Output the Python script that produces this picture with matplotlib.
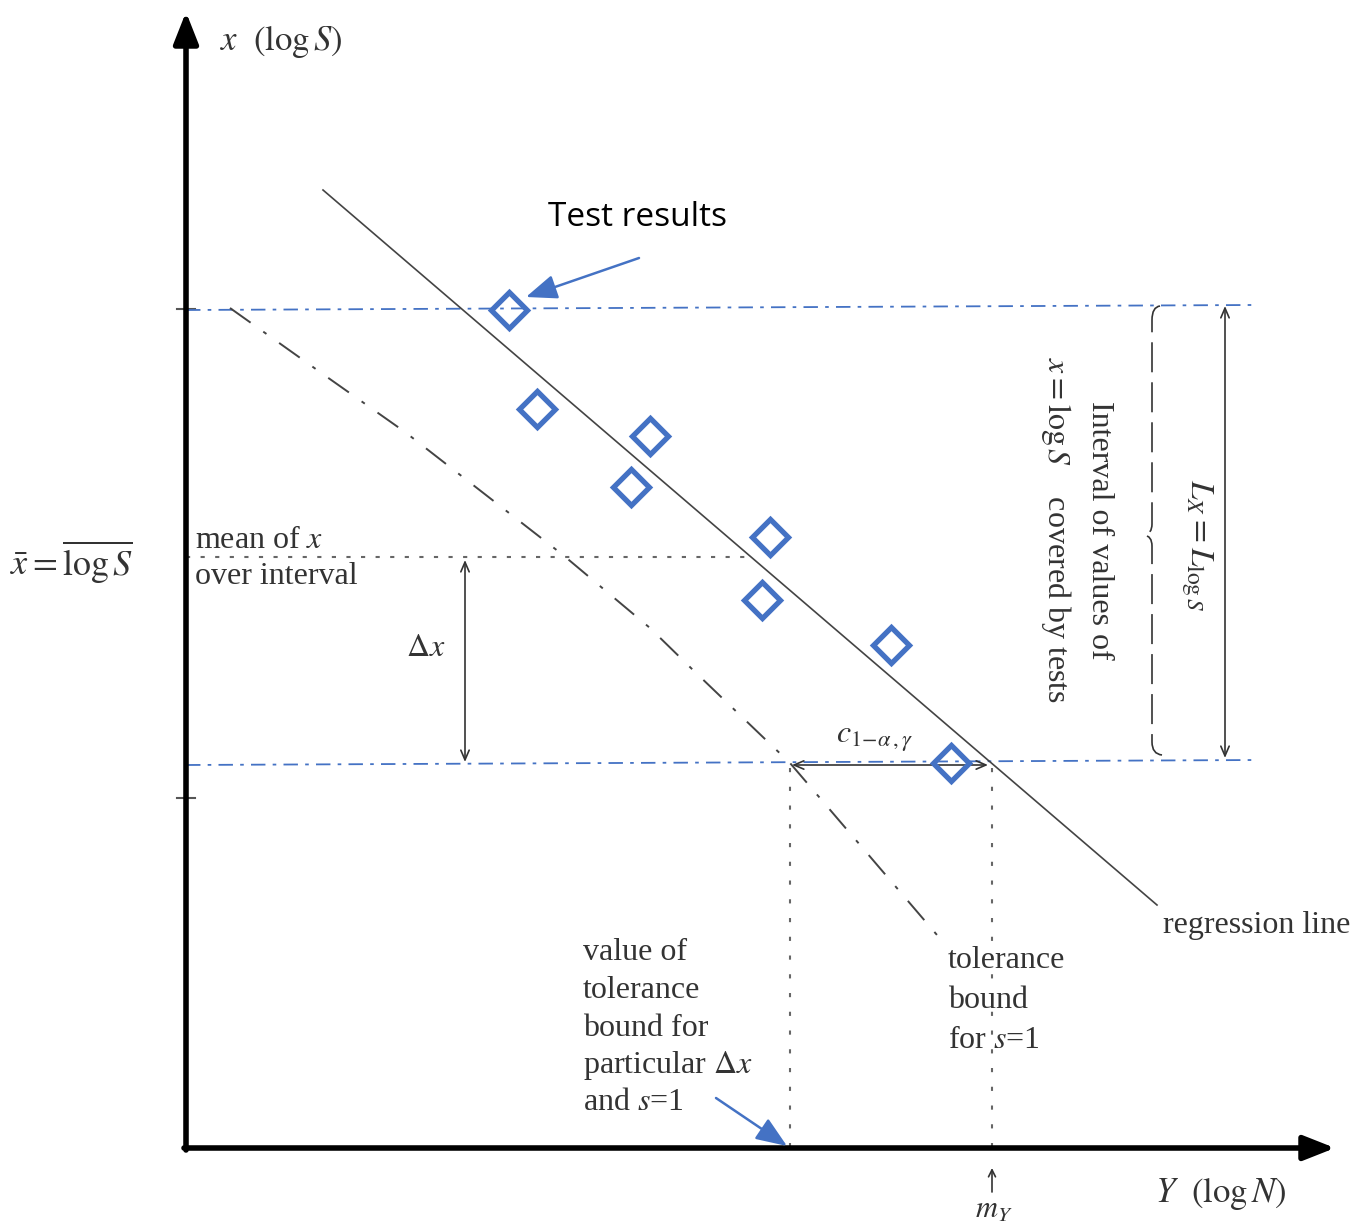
import matplotlib.pyplot as plt
from matplotlib.path import Path
import matplotlib.patches as patches

plt.rcParams['font.family'] = ['Liberation Serif', 'DejaVu Serif']
plt.rcParams['mathtext.fontset'] = 'stix'

# diagram coordinates (pixel-like, y grows downward)
test_Y = [509, 537, 650, 631, 770, 762, 891, 951]
test_x = [310, 409, 436, 487, 537, 600, 645, 763]

regr_Y = [323, 1157]
regr_x = [190, 905]

tol_Y = [230, 327, 405, 563, 650, 693, 790, 943]
tol_x = [308, 377, 432, 555, 628, 670, 763, 942]

upper_Y, upper_x = [186, 1252], [310, 305]
lower_Y, lower_x = [186, 1258], [765, 760]
mean_x = 557
tick_x = [309, 798]
tol_bound_Y = 790
m_Y = 992

BLUE = '#4472c4'
GREY = '#444444'
TXT = '#333333'

fig = plt.figure(figsize=(13.58, 12.25), dpi=100)
ax = fig.add_axes([0, 0, 1, 1])
ax.set_xlim(0, 1358)
ax.set_ylim(1225, 0)
ax.axis('off')

# axes with arrows
ax.annotate('', xy=(186, 12), xytext=(186, 1150),
            arrowprops=dict(arrowstyle='-|>,head_width=0.75,head_length=1.9', color='black', lw=4,
                            shrinkA=0, shrinkB=0))
ax.annotate('', xy=(1335, 1148), xytext=(184, 1148),
            arrowprops=dict(arrowstyle='-|>,head_width=0.75,head_length=1.9', color='black', lw=4,
                            shrinkA=0, shrinkB=0))
for t in tick_x:
    ax.plot([177, 195], [t, t], color='#555555', lw=1.5)

# interval lines
ax.plot(upper_Y, upper_x, color=BLUE, lw=1.3, linestyle=(0, (8, 4, 2, 4)))
ax.plot(lower_Y, lower_x, color=BLUE, lw=1.3, linestyle=(0, (8, 4, 2, 4)))
ax.plot([186, 745], [mean_x, mean_x], color='#666666', lw=1.5, linestyle=(0, (2, 5)))

# regression and tolerance bound
ax.plot(regr_Y, regr_x, color=GREY, lw=1.2)
ax.plot(tol_Y, tol_x, color=GREY, lw=1.4, linestyle=(0, (13, 8, 2, 8)))

# vertical dotted lines
ax.plot([tol_bound_Y, tol_bound_Y], [768, 1146], color='#666666', lw=1.5, linestyle=(0, (2, 7)))
ax.plot([m_Y, m_Y], [768, 1146], color='#666666', lw=1.5, linestyle=(0, (2, 7)))

# test results
ax.plot(test_Y, test_x, linestyle='none', marker='D', ms=18.5, mfc='none', mec=BLUE, mew=3.8, zorder=5)

# double arrows
dbl = dict(arrowstyle='<->,head_width=0.3,head_length=0.7', color=TXT, lw=1.2, shrinkA=0, shrinkB=0)
ax.annotate('', xy=(465, 560), xytext=(465, 762), arrowprops=dbl)
ax.annotate('', xy=(792, 765), xytext=(988, 765), arrowprops=dbl)
ax.annotate('', xy=(1225, 306), xytext=(1225, 758), arrowprops=dbl)
ax.annotate('', xy=(m_Y, 1168), xytext=(m_Y, 1192),
            arrowprops=dict(arrowstyle='->,head_width=0.25,head_length=0.5', color=TXT, lw=1.2,
                            shrinkA=0, shrinkB=0))

# blue pointer arrows
blue_arrow = dict(arrowstyle='-|>,head_width=0.75,head_length=1.9', color=BLUE, lw=1.8,
                  shrinkA=0, shrinkB=0)
ax.annotate('', xy=(526, 297), xytext=(639, 258), arrowprops=blue_arrow)
ax.annotate('', xy=(787, 1146), xytext=(716, 1098), arrowprops=blue_arrow)

# brace
verts = [(1160, 306), (1152, 307), (1152, 320),
         (1152, 524), (1152, 534), (1144, 535),
         (1152, 536), (1152, 546),
         (1152, 742), (1152, 754), (1162, 755)]
codes = [Path.MOVETO, Path.CURVE3, Path.CURVE3,
         Path.LINETO, Path.CURVE3, Path.CURVE3,
         Path.CURVE3, Path.CURVE3,
         Path.LINETO, Path.CURVE3, Path.CURVE3]
ax.add_patch(patches.PathPatch(Path(verts, codes), fill=False, edgecolor=TXT, lw=1.2,
                               linestyle=(0, (18, 6))))

# texts
fs = 23
ax.text(220, 42, r'$x\ \ (\log S)$', fontsize=25, va='center', ha='left', color=TXT)
ax.text(1155, 1193, r'$Y\ \ (\log N)$', fontsize=25, va='center', ha='left', color=TXT)
ax.text(994, 1210, r'$m_Y$', fontsize=22, va='center', ha='center', color=TXT)
ax.text(10, 562, r'$\bar{x} = \overline{\log S}$', fontsize=26, va='center', ha='left', color=TXT)
ax.text(195, 540, r'mean of $x$', fontsize=fs, va='center', ha='left', color=TXT)
ax.text(195, 577, 'over interval', fontsize=fs, va='center', ha='left', color=TXT)
ax.text(426, 648, r'$\Delta x$', fontsize=fs, va='center', ha='center', color=TXT)
ax.text(875, 740, r'$c_{1\!-\!\alpha\,,\gamma}$', fontsize=23, va='center', ha='center', color=TXT)
ax.text(637, 218, 'Test results', fontsize=24, va='center', ha='center', color='black',
        family=['Open Sans', 'DejaVu Sans'])
ax.text(1163, 925, 'regression line', fontsize=fs, va='center', ha='left', color=TXT)
for i, s in enumerate(['tolerance', 'bound', r'for $s$=1']):
    ax.text(948, 960 + 40 * i, s, fontsize=fs, va='center', ha='left', color=TXT)
for i, s in enumerate(['value of', 'tolerance', 'bound for', r'particular $\Delta x$', r'and $s$=1']):
    ax.text(583, 953 + 37.5 * i, s, fontsize=fs, va='center', ha='left', color=TXT)
ax.text(1100, 530, 'Interval of values of', fontsize=fs, rotation=-90, va='center', ha='center',
        color=TXT)
ax.text(1056, 530, r'$x = \log S$    covered by tests', fontsize=fs, rotation=-90, va='center',
        ha='center', color=TXT)
ax.text(1197, 545, r'$L_X = L_{\log S}$', fontsize=24, rotation=-90, va='center', ha='center',
        color=TXT)

fig.savefig('out.png', dpi=100)
